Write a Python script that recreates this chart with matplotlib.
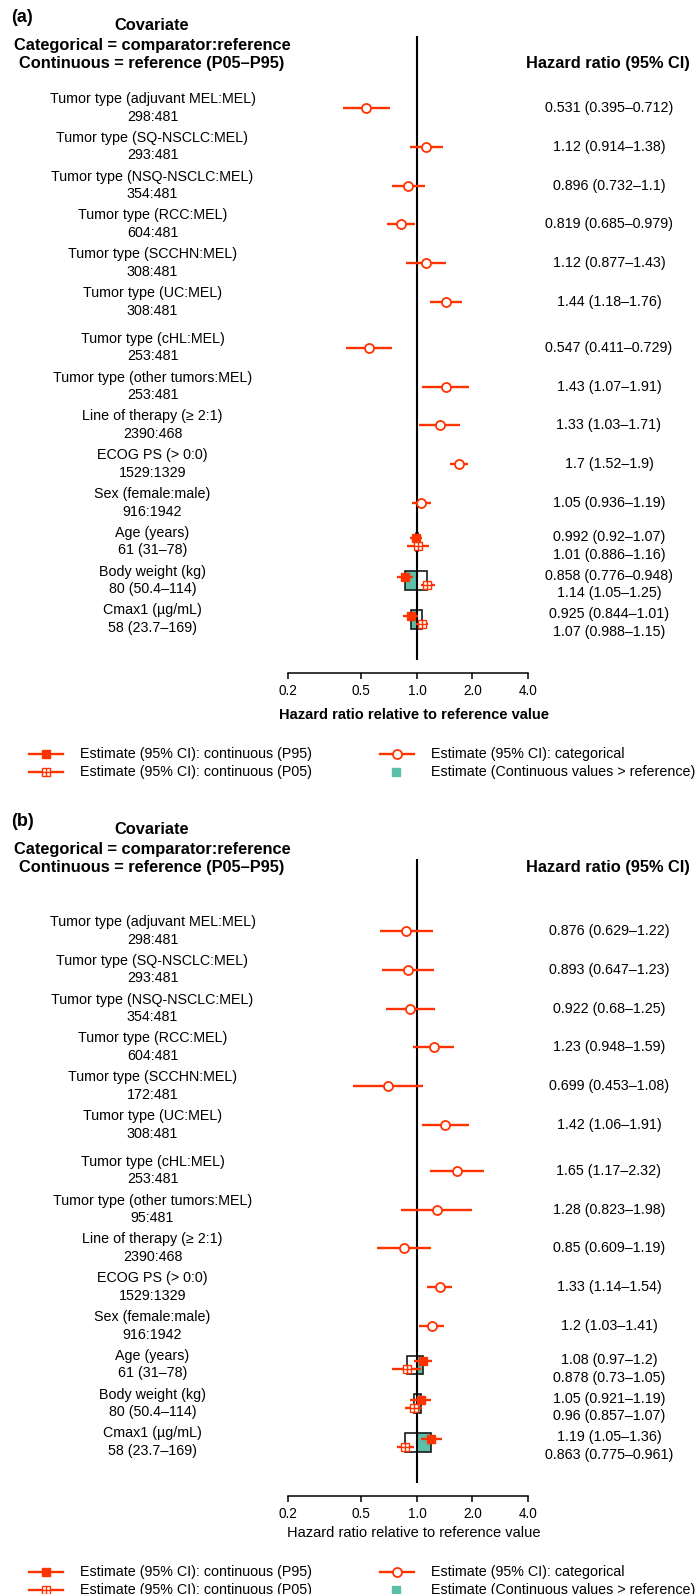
import numpy as np
import matplotlib.pyplot as plt
from matplotlib import transforms
from matplotlib.patches import Rectangle
from matplotlib.lines import Line2D
from matplotlib.ticker import FixedLocator, NullLocator

plt.rcParams['font.family'] = ['Liberation Sans', 'DejaVu Sans']

# ---------------- data ----------------
cat_labels = ["Tumor type (adjuvant MEL:MEL)", "Tumor type (SQ-NSCLC:MEL)",
              "Tumor type (NSQ-NSCLC:MEL)", "Tumor type (RCC:MEL)",
              "Tumor type (SCCHN:MEL)", "Tumor type (UC:MEL)",
              "Tumor type (cHL:MEL)", "Tumor type (other tumors:MEL)",
              "Line of therapy (\u2265 2:1)", "ECOG PS (> 0:0)", "Sex (female:male)"]
cont_labels = ["Age (years)", "Body weight (kg)", "Cmax1 (\u00b5g/mL)"]
cont_ref = ["61 (31\u201378)", "80 (50.4\u2013114)", "58 (23.7\u2013169)"]

# panel (a)
counts_a = ["298:481", "293:481", "354:481", "604:481", "308:481", "308:481",
            "253:481", "253:481", "2390:468", "1529:1329", "916:1942"]
hr_a = [0.531, 1.12, 0.896, 0.819, 1.12, 1.44, 0.547, 1.43, 1.33, 1.7, 1.05]
lo_a = [0.395, 0.914, 0.732, 0.685, 0.877, 1.18, 0.411, 1.07, 1.03, 1.52, 0.936]
hi_a = [0.712, 1.38, 1.1, 0.979, 1.43, 1.76, 0.729, 1.91, 1.71, 1.9, 1.19]
p95_hr_a = [0.992, 0.858, 0.925]
p95_lo_a = [0.92, 0.776, 0.844]
p95_hi_a = [1.07, 0.948, 1.01]
p05_hr_a = [1.01, 1.14, 1.07]
p05_lo_a = [0.886, 1.05, 0.988]
p05_hi_a = [1.16, 1.25, 1.15]

# panel (b)
counts_b = ["298:481", "293:481", "354:481", "604:481", "172:481", "308:481",
            "253:481", "95:481", "2390:468", "1529:1329", "916:1942"]
hr_b = [0.876, 0.893, 0.922, 1.23, 0.699, 1.42, 1.65, 1.28, 0.85, 1.33, 1.2]
lo_b = [0.629, 0.647, 0.68, 0.948, 0.453, 1.06, 1.17, 0.823, 0.609, 1.14, 1.03]
hi_b = [1.22, 1.23, 1.25, 1.59, 1.08, 1.91, 2.32, 1.98, 1.19, 1.54, 1.41]
p95_hr_b = [1.08, 1.05, 1.19]
p95_lo_b = [0.97, 0.921, 1.05]
p95_hi_b = [1.2, 1.19, 1.36]
p05_hr_b = [0.878, 0.96, 0.863]
p05_lo_b = [0.73, 0.857, 0.775]
p05_hi_b = [1.05, 1.07, 0.961]

ticks = [0.2, 0.5, 1.0, 2.0, 4.0]
tick_labels = ["0.2", "0.5", "1.0", "2.0", "4.0"]

# ---------------- style ----------------
W, H = 700, 1594
RED = '#ff3300'
TEAL = '#5cbfa9'
EDGE = '#1a1a1a'
FS = 10.3
FS_HEAD = 11.8
UNIT = 38.8          # pixels per row
LAB_X = 152.5 / W
HR_X = 609 / W

fig = plt.figure(figsize=(W / 100, H / 100), dpi=100)
ov = fig.add_axes([0, 0, 1, 1])
ov.set_xlim(0, W)
ov.set_ylim(H, 0)
ov.axis('off')


def fmt(h, l, u):
    return f"{h:.3g} ({l:.3g}\u2013{u:.3g})"


def draw_panel(row0, hdr0, tag, counts, cat, c95, c05, xlab_bold, xlab_dy, leg_dy):
    y_top = row0 - 1.856 * UNIT
    y_bot = row0 + 14.562 * UNIT
    ax = fig.add_axes([288 / W, 1 - y_bot / H, 240 / W, (y_bot - y_top) / H])
    ax.set_xscale('log')
    ax.set_xlim(0.2, 4)
    ax.set_ylim(14.562, -1.856)
    ax.patch.set_alpha(0)
    for s in ['top', 'right', 'left']:
        ax.spines[s].set_visible(False)
    ax.spines['bottom'].set_bounds(0.2, 4)
    ax.spines['bottom'].set_linewidth(1.1)
    ax.set_yticks([])
    ax.xaxis.set_major_locator(FixedLocator(ticks))
    ax.xaxis.set_minor_locator(NullLocator())
    ax.set_xticklabels(tick_labels)
    ax.tick_params(axis='x', length=4.5, width=1.1, pad=3.5, labelsize=9.8)

    n_cat = len(cat_labels)
    idx = np.arange(n_cat + len(cont_labels))
    ypos = idx + np.where(idx >= 6, 0.18, 0.0)
    yc, yk = ypos[:n_cat], ypos[n_cat:]

    ax.vlines(1, -1.856, 14.23, color='black', lw=1.5, zorder=4)

    # categorical
    hr, lo, hi = cat
    ax.hlines(yc, lo, hi, color=RED, lw=1.7, zorder=5)
    ax.plot(hr, yc, 'o', ls='none', ms=6.5, mfc='white', mec=RED, mew=1.3, zorder=6)

    # continuous
    h95, l95, u95 = c95
    h05, l05, u05 = c05
    for y, a, b in zip(yk, h95, h05):
        x0, x1 = min(a, b), max(a, b)
        ax.add_patch(Rectangle((x0, y - 0.235), x1 - x0, 0.47, fc='white', ec='none', zorder=1))
        ax.add_patch(Rectangle((min(1, a), y - 0.235), abs(a - 1), 0.47, fc=TEAL, ec='none', zorder=2))
        ax.add_patch(Rectangle((x0, y - 0.235), x1 - x0, 0.47, fc='none', ec=EDGE, lw=1.2, zorder=3))
    ax.hlines(yk - 0.1, l95, u95, color=RED, lw=1.7, zorder=5)
    ax.plot(h95, yk - 0.1, 's', ls='none', ms=5.8, color=RED, zorder=6)
    ax.hlines(yk + 0.11, l05, u05, color=RED, lw=1.7, zorder=5)
    ax.plot(h05, yk + 0.11, 's', ls='none', ms=6, mfc='white', mec=RED, mew=1, zorder=6)
    ax.plot(h05, yk + 0.11, '+', ls='none', ms=6, mec=RED, mew=1, zorder=7)

    # text columns
    tr = transforms.blended_transform_factory(fig.transFigure, ax.transData)
    for y, lab, cnt, h, l, u in zip(yc, cat_labels, counts, hr, lo, hi):
        ax.text(LAB_X, y - 0.23, lab, transform=tr, ha='center', va='center', fontsize=FS)
        ax.text(LAB_X, y + 0.22, cnt, transform=tr, ha='center', va='center', fontsize=FS)
        ax.text(HR_X, y, fmt(h, l, u), transform=tr, ha='center', va='center', fontsize=FS)
    for k, y in enumerate(yk):
        ax.text(LAB_X, y - 0.23, cont_labels[k], transform=tr, ha='center', va='center', fontsize=FS)
        ax.text(LAB_X, y + 0.22, cont_ref[k], transform=tr, ha='center', va='center', fontsize=FS)
        ax.text(HR_X, y - 0.13, fmt(h95[k], l95[k], u95[k]), transform=tr,
                ha='center', va='center', fontsize=FS)
        ax.text(HR_X, y + 0.33, fmt(h05[k], l05[k], u05[k]), transform=tr,
                ha='center', va='center', fontsize=FS)

    # headers
    ov.text(11, hdr0 - 8, tag, fontsize=13, fontweight='bold', ha='left', va='center')
    ov.text(152, hdr0, "Covariate", fontsize=FS_HEAD, fontweight='bold', ha='center', va='center')
    ov.text(152, hdr0 + 20.5, "Categorical = comparator:reference", fontsize=FS_HEAD,
            fontweight='bold', ha='center', va='center')
    ov.text(152, hdr0 + 38.5, "Continuous = reference (P05\u2013P95)", fontsize=FS_HEAD,
            fontweight='bold', ha='center', va='center')
    ov.text(608, hdr0 + 38.5, "Hazard ratio (95% CI)", fontsize=FS_HEAD,
            fontweight='bold', ha='center', va='center')

    ov.text(414, y_bot + xlab_dy, "Hazard ratio relative to reference value", fontsize=10.5,
            fontweight='bold' if xlab_bold else 'normal', ha='center', va='center')

    # legend
    ly1 = y_bot + leg_dy
    ly2 = ly1 + 17.5
    ov.add_line(Line2D([29, 63], [ly1, ly1], color=RED, lw=1.7))
    ov.plot([46], [ly1], 's', ms=5.5, color=RED)
    ov.add_line(Line2D([29, 63], [ly2, ly2], color=RED, lw=1.7))
    ov.plot([46], [ly2], 's', ms=6, mfc='white', mec=RED, mew=1)
    ov.plot([46], [ly2], '+', ms=6, mec=RED, mew=1)
    ov.add_line(Line2D([380, 414], [ly1, ly1], color=RED, lw=1.7))
    ov.plot([397], [ly1], 'o', ms=6.5, mfc='white', mec=RED, mew=1.3)
    ov.plot([396], [ly2], 's', ms=5.5, color=TEAL)
    ov.text(80, ly1, "Estimate (95% CI): continuous (P95)", fontsize=FS, va='center')
    ov.text(80, ly2, "Estimate (95% CI): continuous (P05)", fontsize=FS, va='center')
    ov.text(431, ly1, "Estimate (95% CI): categorical", fontsize=FS, va='center')
    ov.text(431, ly2, "Estimate (Continuous values > reference)", fontsize=FS, va='center')
    return ax


draw_panel(108, 25, "(a)", counts_a, (hr_a, lo_a, hi_a),
           (p95_hr_a, p95_lo_a, p95_hi_a), (p05_hr_a, p05_lo_a, p05_hi_a),
           True, 42, 81)
draw_panel(931, 829, "(b)", counts_b, (hr_b, lo_b, hi_b),
           (p95_hr_b, p95_lo_b, p95_hi_b), (p05_hr_b, p05_lo_b, p05_hi_b),
           False, 37, 76)

fig.savefig('out.png', dpi=100)
